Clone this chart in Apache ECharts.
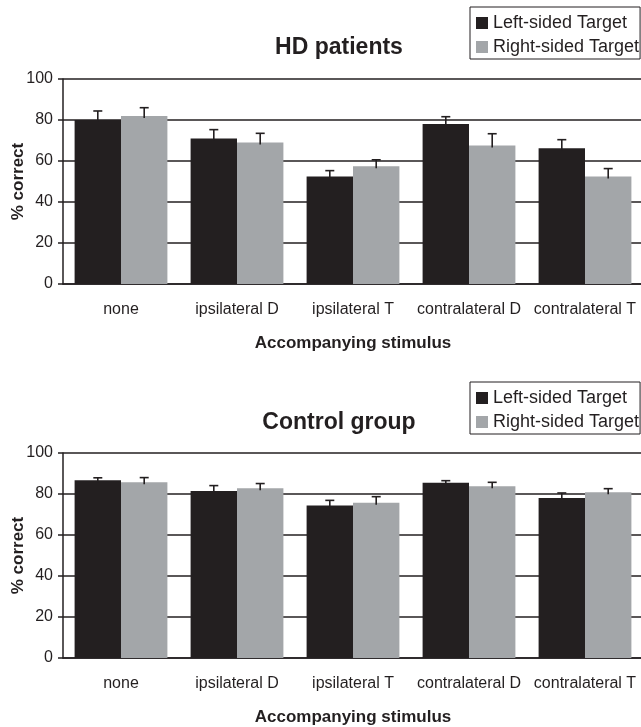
<!DOCTYPE html>
<html>
<head>
<meta charset="utf-8">
<style>
  html, body { margin: 0; padding: 0; background: #fff; }
  #chart { width: 641px; height: 727px; }
</style>
<script src="https://cdn.jsdelivr.net/npm/echarts@6/dist/echarts.min.js"></script>
</head>
<body>
<div id="chart"></div>
<script>
// Accompanying-stimulus conditions
const categories = ['none', 'ipsilateral D', 'ipsilateral T', 'contralateral D', 'contralateral T'];
const seriesNames = ['Left-sided Target', 'Right-sided Target'];

// HD patients: mean % correct and upper error (SE)
const hdLeft = [80, 71, 52.4, 78, 66.2];
const hdLeftErr = [4.4, 4.3, 2.9, 3.6, 4.2];
const hdRight = [82, 69, 57.4, 67.6, 52.4];
const hdRightErr = [4, 4.5, 3.2, 5.7, 3.9];

// Control group
const ctlLeft = [86.7, 81.5, 74.4, 85.5, 78];
const ctlLeftErr = [1.2, 2.6, 2.5, 1.0, 2.5];
const ctlRight = [85.7, 82.8, 75.7, 83.8, 80.8];
const ctlRightErr = [2.3, 2.3, 3.0, 1.9, 1.8];

const yTicks = { min: 0, max: 100, interval: 20 };

const INK = '#231f20';
const GREY = '#a3a6a9';
const FONT = "'Liberation Sans', Arial, Helvetica, sans-serif";

const chart = echarts.init(document.getElementById('chart'), null, { renderer: 'canvas' });

function errorData(values, errs, side) {
  return values.map((v, i) => [i, v, errs[i], side]);
}

// Upper whisker with a short cap, centred on its bar
function renderError(params, api) {
  const i = api.value(0), v = api.value(1), e = api.value(2), side = api.value(3);
  const band = api.size([1, 0])[0];
  const off = side * band * 0.8 / 4;
  const base = api.coord([i, v]);
  const top = api.coord([i, v + e]);
  const x = base[0] + off;
  const style = { stroke: INK, lineWidth: 1.6 };
  return {
    type: 'group',
    children: [
      { type: 'line', shape: { x1: x, y1: base[1] + 2, x2: x, y2: top[1] }, style },
      { type: 'line', shape: { x1: x - 4.5, y1: top[1], x2: x + 4.5, y2: top[1] }, style }
    ]
  };
}

function panel(idx, top) {
  return {
    grid: { left: 63, top: top, width: 580, height: 205, outerBoundsMode: 'none', containLabel: false },
    xAxis: {
      gridIndex: idx,
      type: 'category',
      data: categories,
      name: 'Accompanying stimulus',
      nameLocation: 'middle',
      nameGap: 51,
      nameMoveOverlap: false,
      nameTextStyle: { fontFamily: FONT, fontSize: 17, fontWeight: 'bold', color: INK },
      axisLine: { show: true, lineStyle: { color: INK, width: 1.5 } },
      axisTick: { show: false },
      axisLabel: { fontFamily: FONT, fontSize: 16, color: INK, margin: 18, interval: 0 }
    },
    yAxis: {
      gridIndex: idx,
      type: 'value',
      min: yTicks.min, max: yTicks.max, interval: yTicks.interval,
      name: '% correct',
      nameLocation: 'middle',
      nameRotate: 90,
      nameGap: 36,
      nameMoveOverlap: false,
      nameTextStyle: { fontFamily: FONT, fontSize: 17, fontWeight: 'bold', color: INK },
      axisLine: { show: true, lineStyle: { color: INK, width: 1.5 } },
      axisTick: { show: true, length: 5, lineStyle: { color: INK, width: 1.5 } },
      axisLabel: { fontFamily: FONT, fontSize: 16, color: INK, margin: 10 },
      splitLine: { show: true, lineStyle: { color: INK, width: 1.5 } }
    }
  };
}

const p1 = panel(0, 79);
const p2 = panel(1, 453);

function legend(top) {
  return {
    orient: 'vertical',
    left: 470,
    top: top,
    data: seriesNames,
    icon: 'rect',
    itemWidth: 12,
    itemHeight: 12,
    itemGap: 6,
    padding: [7, 1, 3, 6],
    borderColor: INK,
    borderWidth: 1,
    borderRadius: 0,
    textStyle: { fontFamily: FONT, fontSize: 18, color: INK },
    selectedMode: false
  };
}

function title(text, top) {
  return {
    text: text,
    left: 339,
    top: top,
    textAlign: 'center',
    padding: 0,
    textStyle: { fontFamily: FONT, fontSize: 23, fontWeight: 'bold', color: INK }
  };
}

function bars(name, data, color, axis) {
  return {
    name: name,
    type: 'bar',
    xAxisIndex: axis, yAxisIndex: axis,
    data: data,
    barGap: '0%',
    barCategoryGap: '20%',
    itemStyle: { color: color },
    z: 2
  };
}

function errs(values, e, side, axis) {
  return {
    type: 'custom',
    xAxisIndex: axis, yAxisIndex: axis,
    data: errorData(values, e, side),
    encode: { x: 0, y: 1 },
    renderItem: renderError,
    z: 3,
    silent: true
  };
}

chart.setOption({
  animation: false,
  backgroundColor: '#fff',
  title: [title('HD patients', 36), title('Control group', 411)],
  legend: [legend(7), legend(382)],
  grid: [p1.grid, p2.grid],
  xAxis: [p1.xAxis, p2.xAxis],
  yAxis: [p1.yAxis, p2.yAxis],
  series: [
    bars(seriesNames[0], hdLeft, INK, 0),
    bars(seriesNames[1], hdRight, GREY, 0),
    errs(hdLeft, hdLeftErr, -1, 0),
    errs(hdRight, hdRightErr, 1, 0),
    bars(seriesNames[0], ctlLeft, INK, 1),
    bars(seriesNames[1], ctlRight, GREY, 1),
    errs(ctlLeft, ctlLeftErr, -1, 1),
    errs(ctlRight, ctlRightErr, 1, 1)
  ]
});
</script>
</body>
</html>
